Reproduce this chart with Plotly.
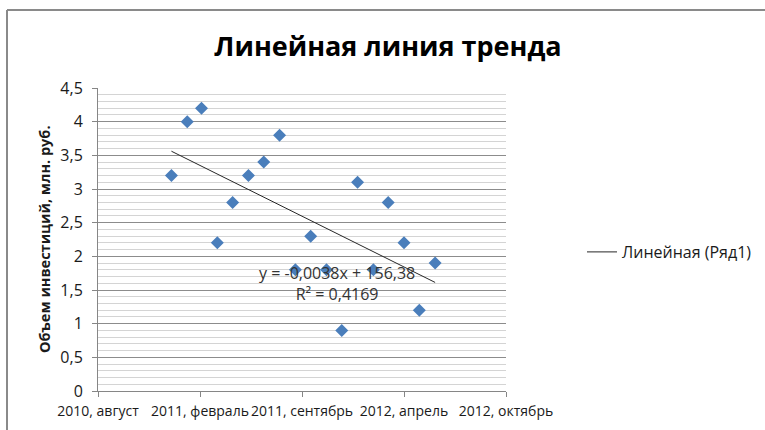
import numpy as np
import pandas as pd
import plotly.graph_objects as go

# Monthly investment volume, million rubles
months = pd.date_range("2011-01-01", periods=18, freq="MS")
invest = [3.2, 4.0, 4.2, 2.2, 2.8, 3.2, 3.4, 3.8, 1.8,
          2.3, 1.8, 0.9, 3.1, 1.8, 2.8, 2.2, 1.2, 1.9]

# Axis ticks (x in spreadsheet day serials)
x_tick_days = [40400, 40600, 40800, 41000, 41200]
x_tick_labels = ["2010, август", "2011, февраль", "2011, сентябрь",
                 "2012, апрель", "2012, октябрь"]
y_tick_vals = [0, 0.5, 1, 1.5, 2, 2.5, 3, 3.5, 4, 4.5]
y_tick_labels = ["0", "0,5", "1", "1,5", "2", "2,5", "3", "3,5", "4", "4,5"]

title_text = "Линейная линия тренда"
y_title = "Объем инвестиций, млн. руб."
trend_name = "Линейная (Ряд1)"
equation_text = "y = -0,0038x + 156,38<br>R² = 0,4169"

# Day serials counted from 1899-12-30
serial = (months - pd.Timestamp("1899-12-30")).days.to_numpy().astype(float)

# Least-squares linear trend over the data span
slope, intercept = np.polyfit(serial, invest, 1)
trend_x = [serial[0], serial[-1]]
trend_y = [slope * v + intercept for v in trend_x]

W, H = 765, 430
ML, MR, MT, MB = 98, 259, 88, 39
PW, PH = W - ML - MR, H - MT - MB

def px(xp):
    return (xp - ML) / PW

def py(yp):
    return (H - MB - yp) / PH

FONT = "Open Sans"
TXT = "#1a1a1a"
AX = "#868686"

fig = go.Figure()
fig.add_trace(go.Scatter(
    x=serial, y=invest, mode="markers", showlegend=False,
    marker=dict(symbol="diamond", size=10, color="#4A7EBB",
                line=dict(width=0)),
))
fig.add_trace(go.Scatter(
    x=trend_x, y=trend_y, mode="lines", name=trend_name,
    line=dict(color="#262626", width=1),
))

fig.update_layout(
    width=W, height=H,
    margin=dict(l=ML, r=MR, t=MT, b=MB, autoexpand=False),
    paper_bgcolor="white", plot_bgcolor="white",
    font=dict(family=FONT, color=TXT, size=14),
    title=dict(text="<b>" + title_text + "</b>", x=388 / W, xanchor="center",
               xref="container", y=1 - 47 / H, yanchor="middle",
               yref="container",
               font=dict(family=FONT, size=27, color="#000000")),
    xaxis=dict(
        range=[40400, 41200], tickmode="array", tickvals=x_tick_days,
        ticktext=x_tick_labels, tickangle=0, automargin=False,
        showgrid=False, zeroline=False,
        showline=True, linecolor=AX, linewidth=1,
        ticks="outside", ticklen=5, tickcolor=AX,
        ticklabelstandoff=2,
        tickfont=dict(size=14, color=TXT),
    ),
    yaxis=dict(
        range=[0, 4.5], tickmode="array", tickvals=y_tick_vals,
        ticktext=y_tick_labels, automargin=False,
        showgrid=True, gridcolor="#8c8c8c",
        gridwidth=1, zeroline=False, showline=True, linecolor=AX,
        linewidth=1, ticks="outside", ticklen=5, tickcolor=AX,
        ticklabelstandoff=6,
        tickfont=dict(size=16, color=TXT),
        minor=dict(dtick=0.1, tick0=0, showgrid=True, gridcolor="#d4d4d4",
                   gridwidth=1, ticks=""),
    ),
    legend=dict(x=px(582), xanchor="left", y=py(252), yanchor="middle",
                font=dict(size=16, color=TXT), bgcolor="rgba(0,0,0,0)",
                itemwidth=30),
    annotations=[
        dict(text="<b>" + y_title + "</b>", textangle=-90,
             xref="paper", yref="paper", x=px(44), y=py(239),
             xanchor="center", yanchor="middle", showarrow=False,
             font=dict(size=14.5, color=TXT)),
        dict(text=equation_text, xref="paper", yref="paper",
             x=px(337), y=py(283), xanchor="center", yanchor="middle",
             showarrow=False, font=dict(size=16, color="#333333")),
    ],
    shapes=[
        dict(type="line", xref="paper", yref="paper",
             x0=px(7), x1=px(W + 5), y0=py(10), y1=py(10),
             line=dict(color="#8a8a8a", width=2)),
        dict(type="line", xref="paper", yref="paper",
             x0=px(7), x1=px(7), y0=py(10), y1=py(H + 5),
             line=dict(color="#8a8a8a", width=2)),
    ],
)

fig.write_html("out.html")
